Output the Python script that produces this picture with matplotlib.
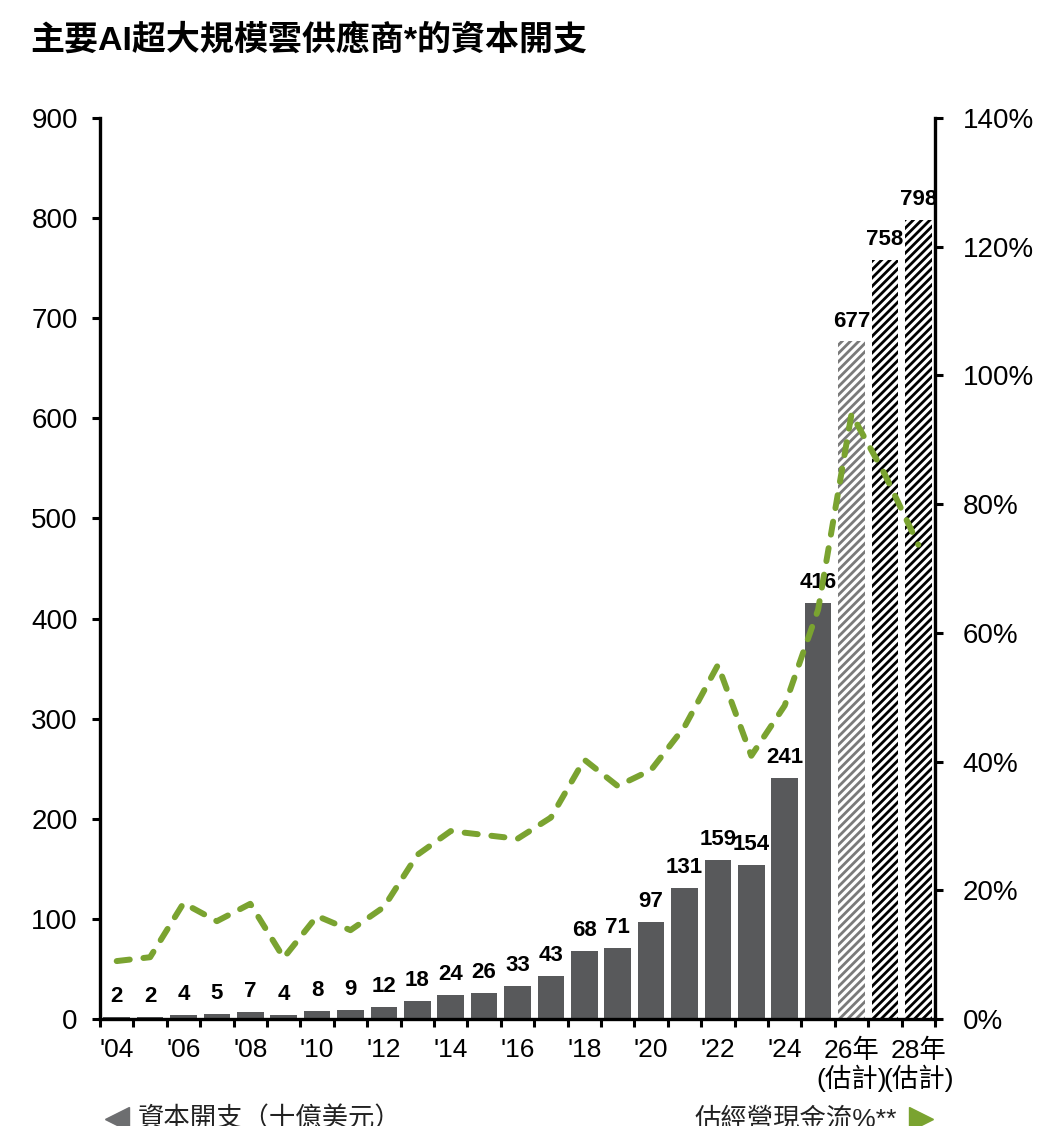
import matplotlib
matplotlib.use("Agg")
import matplotlib.pyplot as plt
from matplotlib.lines import Line2D

plt.rcParams['font.family'] = ['Liberation Sans', 'Noto Sans CJK TC']
plt.rcParams['hatch.linewidth'] = 2.0

years = list(range(2004, 2029))
capex = [2, 2, 4, 5, 7, 4, 8, 9, 12, 18, 24, 26, 33, 43, 68, 71, 97, 131, 159, 154, 241, 416, 677, 758, 798]
ocf_pct = [9.0, 9.6, 18.0, 15.2, 17.9, 9.5, 16.0, 13.8, 17.4, 25.5, 29.2, 28.6, 28.0, 31.3, 40.3, 36.2,
           38.7, 45.4, 55.0, 40.9, 48.7, 63.6, 94.0, 84.6, 73.7]
estimate_years = [2026, 2027, 2028]
xtick_labels = ["'04", "'06", "'08", "'10", "'12", "'14", "'16", "'18", "'20", "'22", "'24",
                "26年\n(估計)", "28年\n(估計)"]
left_ticks = [0, 100, 200, 300, 400, 500, 600, 700, 800, 900]
right_ticks = [0, 20, 40, 60, 80, 100, 120, 140]

title = "主要AI超大規模雲供應商*的資本開支"
legend_left = "資本開支（十億美元）"
legend_right = "估經營現金流%**"

BAR = '#58595b'
GREEN = '#7aa330'

W, H = 1047, 1126
fig = plt.figure(figsize=(W / 100, H / 100), dpi=100)
ax = fig.add_axes([100 / W, (H - 1019) / H, 835 / W, 901 / H])

x = list(range(len(years)))
for i, (yr, v) in enumerate(zip(years, capex)):
    if yr in estimate_years:
        hc = '#7a7a7a' if yr == 2026 else 'black'
        ax.bar(i, v, width=0.8, facecolor='white', edgecolor=hc, linewidth=0, hatch='////')
    else:
        ax.bar(i, v, width=0.8, color=BAR, linewidth=0)
    ax.annotate(str(v), (i, v), xytext=(0, 7), textcoords='offset points',
                ha='center', va='bottom', fontsize=16, fontweight='bold')

ax.set_xlim(-0.5, len(years) - 0.5)
ax.set_ylim(0, 900)
ax.set_yticks(left_ticks)
ax.set_yticklabels([str(t) for t in left_ticks], fontsize=20)
ax.set_xticks([i - 0.5 for i in range(len(years) + 1)])
ax.set_xticklabels([])
ax.set_xticks(x[::2], minor=True)
ax.set_xticklabels(xtick_labels, minor=True, fontsize=19, linespacing=1.1)
ax.tick_params(axis='x', which='minor', length=0, pad=14)
ax.tick_params(axis='x', which='major', direction='out', length=6, width=2.2)
ax.tick_params(axis='y', direction='out', length=6, width=2.2, pad=10)
for s in ['top', 'right']:
    ax.spines[s].set_visible(False)
for s in ['left', 'bottom']:
    ax.spines[s].set_linewidth(2.4)

ax2 = ax.twinx()
ax2.plot(x, ocf_pct, color=GREEN, linewidth=4.3, linestyle=(0, (2.2, 2.3)),
         dash_capstyle='round', solid_capstyle='round')
ax2.set_ylim(0, 140)
ax2.set_yticks(right_ticks)
ax2.set_yticklabels([f"{t}%" for t in right_ticks], fontsize=20)
ax2.tick_params(axis='y', direction='out', length=6, width=2.2, pad=14)
for s in ['top', 'left', 'bottom']:
    ax2.spines[s].set_visible(False)
ax2.spines['right'].set_linewidth(2.4)
ax2.set_xlim(-0.5, len(years) - 0.5)

fig.text(30 / W, 1 - 40 / H, title, fontsize=24.5, fontweight='bold', va='center', ha='left')

# bottom legend
ly = 1 - 1119 / H
fig.add_artist(Line2D([117 / W], [ly], marker='<', markersize=17, color='#6d6e70',
                      transform=fig.transFigure, linestyle='none'))
fig.text(138 / W, ly, legend_left, fontsize=19, va='center', ha='left', color='#222222')
fig.add_artist(Line2D([921 / W], [ly], marker='>', markersize=17, color=GREEN,
                      transform=fig.transFigure, linestyle='none'))
fig.text(897 / W, ly, legend_right, fontsize=19, va='center', ha='right', color='#222222')

fig.savefig('out.png', dpi=100)
